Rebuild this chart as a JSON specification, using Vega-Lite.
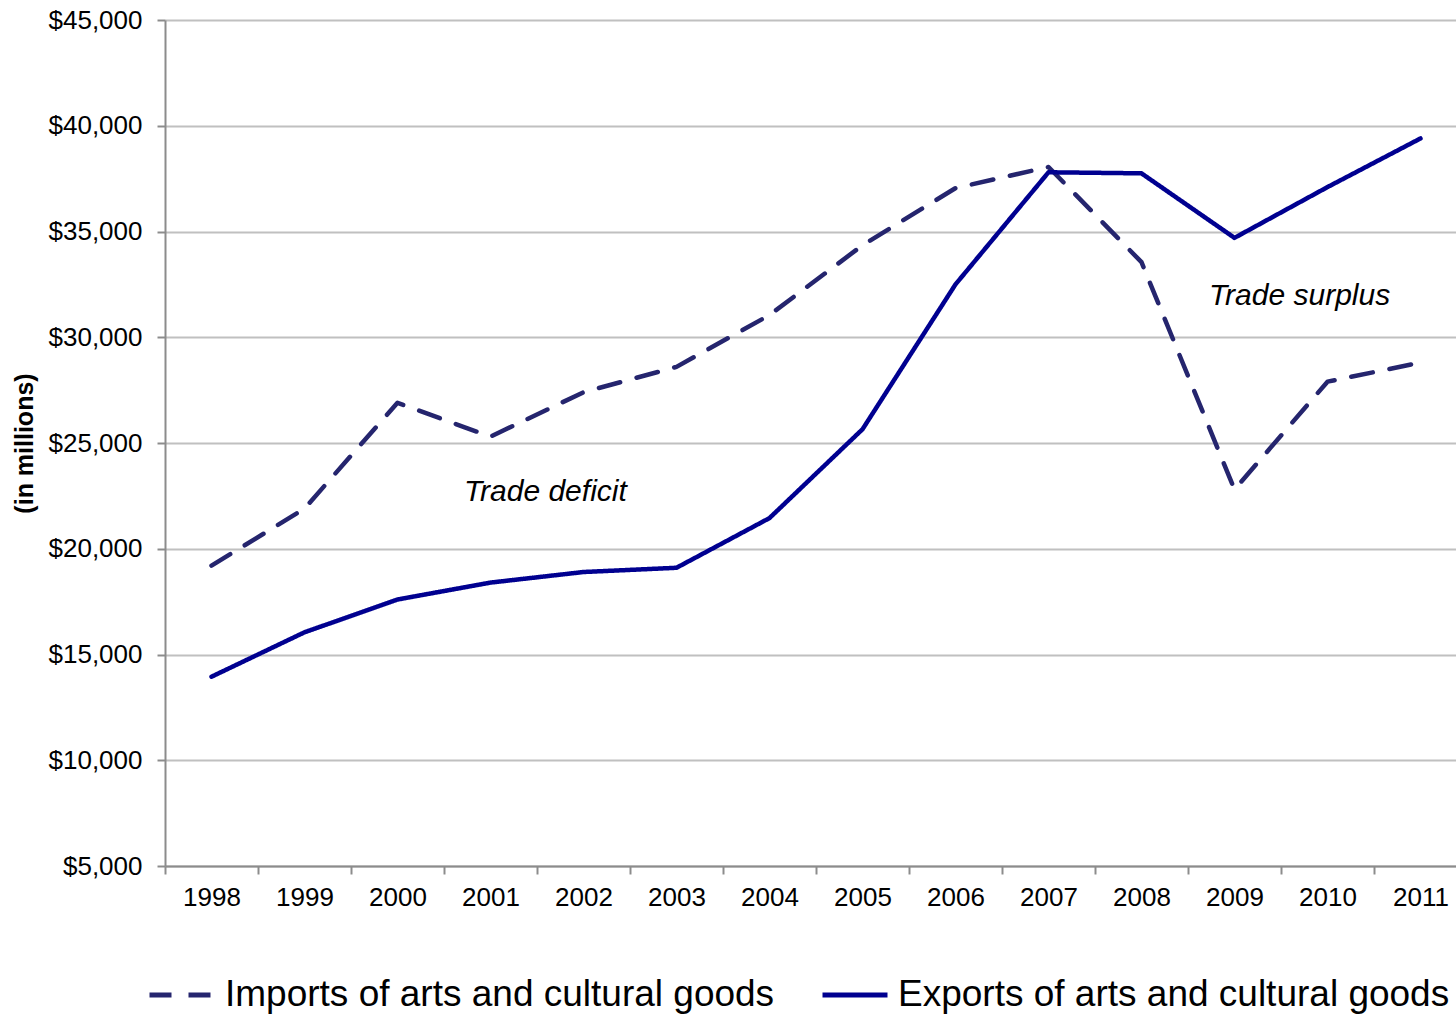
{
  "$schema": "https://vega.github.io/schema/vega-lite/v6.json",
  "autosize": "none",
  "width": 1291,
  "height": 846,
  "padding": {"left": 165, "top": 20, "right": 0, "bottom": 148},
  "background": "white",
  "config": {
    "view": {"stroke": null},
    "font": "Liberation Sans"
  },
  "datasets": {
    "trade": [
      {"year": "1998", "series": "Imports of arts and cultural goods", "value": 19200},
      {"year": "1999", "series": "Imports of arts and cultural goods", "value": 21900},
      {"year": "2000", "series": "Imports of arts and cultural goods", "value": 26900},
      {"year": "2001", "series": "Imports of arts and cultural goods", "value": 25300},
      {"year": "2002", "series": "Imports of arts and cultural goods", "value": 27400},
      {"year": "2003", "series": "Imports of arts and cultural goods", "value": 28600},
      {"year": "2004", "series": "Imports of arts and cultural goods", "value": 31050},
      {"year": "2005", "series": "Imports of arts and cultural goods", "value": 34350},
      {"year": "2006", "series": "Imports of arts and cultural goods", "value": 37050},
      {"year": "2007", "series": "Imports of arts and cultural goods", "value": 38050},
      {"year": "2008", "series": "Imports of arts and cultural goods", "value": 33550},
      {"year": "2009", "series": "Imports of arts and cultural goods", "value": 22800},
      {"year": "2010", "series": "Imports of arts and cultural goods", "value": 27900},
      {"year": "2011", "series": "Imports of arts and cultural goods", "value": 28800},
      {"year": "1998", "series": "Exports of arts and cultural goods", "value": 13950},
      {"year": "1999", "series": "Exports of arts and cultural goods", "value": 16050},
      {"year": "2000", "series": "Exports of arts and cultural goods", "value": 17600},
      {"year": "2001", "series": "Exports of arts and cultural goods", "value": 18400},
      {"year": "2002", "series": "Exports of arts and cultural goods", "value": 18900},
      {"year": "2003", "series": "Exports of arts and cultural goods", "value": 19100},
      {"year": "2004", "series": "Exports of arts and cultural goods", "value": 21450},
      {"year": "2005", "series": "Exports of arts and cultural goods", "value": 25650},
      {"year": "2006", "series": "Exports of arts and cultural goods", "value": 32500},
      {"year": "2007", "series": "Exports of arts and cultural goods", "value": 37800},
      {"year": "2008", "series": "Exports of arts and cultural goods", "value": 37750},
      {"year": "2009", "series": "Exports of arts and cultural goods", "value": 34700},
      {"year": "2010", "series": "Exports of arts and cultural goods", "value": 37100},
      {"year": "2011", "series": "Exports of arts and cultural goods", "value": 39400}
    ],
    "notes": [
      {"year": "2002", "value": 22680, "label": "Trade deficit"},
      {"year": "2010", "value": 31950, "label": "Trade surplus"}
    ]
  },
  "layer": [
    {
      "data": {"name": "trade"},
      "mark": {"type": "line", "strokeWidth": 4.5, "strokeCap": "round", "strokeJoin": "round"},
      "encoding": {
        "x": {
          "field": "year", "type": "ordinal", "bandPosition": 0.5,
          "scale": {"type": "band", "range": [0, 1302], "paddingInner": 0, "paddingOuter": 0},
          "axis": {
            "title": null, "labelAngle": 0, "labelFontSize": 26, "labelColor": "#000000",
            "labelPadding": 10, "tickBand": "extent", "tickSize": 8, "tickColor": "#8c8c8c",
            "tickWidth": 2, "domainColor": "#8c8c8c", "domainWidth": 2, "grid": false
          }
        },
        "y": {
          "field": "value", "type": "quantitative",
          "scale": {"domain": [5000, 45000], "nice": false, "zero": false},
          "axis": {
            "title": "(in millions)", "titleFontSize": 25, "titleFontWeight": "bold", "titleColor": "#000000",
            "titlePadding": 11,
            "values": [5000, 10000, 15000, 20000, 25000, 30000, 35000, 40000, 45000],
            "format": "$,.0f", "labelFontSize": 26, "labelColor": "#000000", "labelPadding": 15,
            "tickSize": 8, "tickColor": "#8c8c8c", "tickWidth": 2, "domainColor": "#8c8c8c", "domainWidth": 2,
            "grid": true, "gridColor": "#c0c0c0", "gridWidth": 2
          }
        },
        "color": {
          "field": "series", "type": "nominal",
          "scale": {
            "domain": ["Imports of arts and cultural goods", "Exports of arts and cultural goods"],
            "range": ["#25256E", "#000090"]
          },
          "legend": {
            "title": null, "orient": "none", "direction": "horizontal", "legendX": -18, "legendY": 940,
            "labelFontSize": 37, "labelColor": "#000000", "labelLimit": 0, "labelOffset": 8,
            "symbolType": "stroke", "symbolSize": 4225, "symbolStrokeWidth": 5, "columnPadding": 37
          }
        },
        "strokeDash": {
          "field": "series", "type": "nominal",
          "scale": {
            "domain": ["Imports of arts and cultural goods", "Exports of arts and cultural goods"],
            "range": [[22, 17], [1, 0]]
          },
          "legend": null
        }
      }
    },
    {
      "data": {"name": "notes"},
      "transform": [{"filter": "datum.year == '2002'"}],
      "mark": {"type": "text", "fontSize": 30, "fontStyle": "italic", "align": "center", "baseline": "middle", "color": "#000000"},
      "encoding": {
        "x": {"field": "year", "type": "ordinal", "bandPosition": 0.09},
        "y": {"field": "value", "type": "quantitative"},
        "text": {"field": "label"}
      }
    },
    {
      "data": {"name": "notes"},
      "transform": [{"filter": "datum.year == '2010'"}],
      "mark": {"type": "text", "fontSize": 30, "fontStyle": "italic", "align": "center", "baseline": "middle", "color": "#000000"},
      "encoding": {
        "x": {"field": "year", "type": "ordinal", "bandPosition": 0.2},
        "y": {"field": "value", "type": "quantitative"},
        "text": {"field": "label"}
      }
    }
  ]
}
